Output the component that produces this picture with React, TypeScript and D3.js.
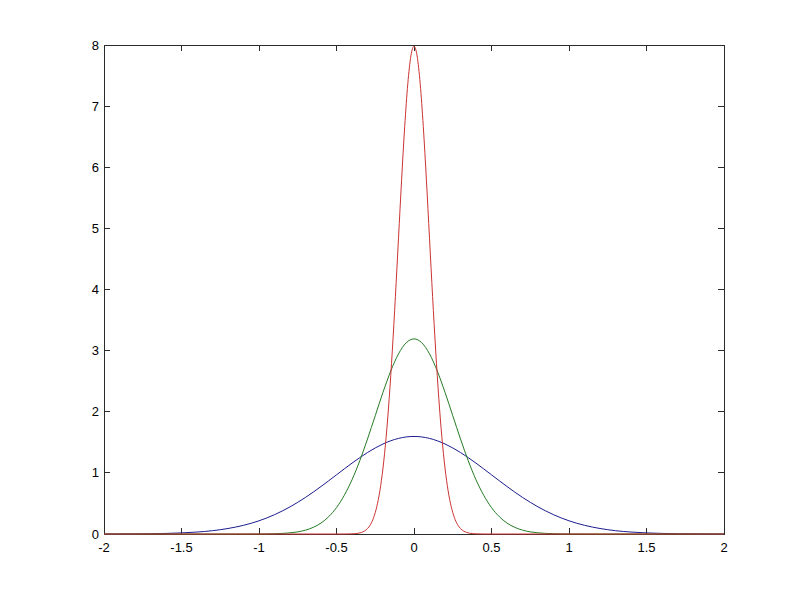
import React from "react";
import * as d3 from "d3";

const xTicks = [-2, -1.5, -1, -0.5, 0, 0.5, 1, 1.5, 2];
const yTicks = [0, 1, 2, 3, 4, 5, 6, 7, 8];

const blueX = [-2, -1.9, -1.8, -1.7, -1.6, -1.5, -1.4, -1.3, -1.2, -1.1, -1, -0.9, -0.8, -0.7, -0.6, -0.5, -0.4, -0.3, -0.2, -0.1, 0, 0.1, 0.2, 0.3, 0.4, 0.5, 0.6, 0.7, 0.8, 0.9, 1, 1.1, 1.2, 1.3, 1.4, 1.5, 1.6, 1.7, 1.8, 1.9, 2];
const blueY = [0.0005, 0.0012, 0.0024, 0.0049, 0.0095, 0.018, 0.032, 0.054, 0.09, 0.142, 0.216, 0.316, 0.444, 0.599, 0.777, 0.968, 1.159, 1.333, 1.473, 1.564, 1.596, 1.564, 1.473, 1.333, 1.159, 0.968, 0.777, 0.599, 0.444, 0.316, 0.216, 0.142, 0.09, 0.054, 0.032, 0.018, 0.0095, 0.0049, 0.0024, 0.0012, 0.0005];

const greenX = [-2, -1.5, -1.2, -1, -0.95, -0.9, -0.85, -0.8, -0.75, -0.7, -0.65, -0.6, -0.55, -0.5, -0.45, -0.4, -0.35, -0.3, -0.25, -0.2, -0.15, -0.1, -0.05, 0, 0.05, 0.1, 0.15, 0.2, 0.25, 0.3, 0.35, 0.4, 0.45, 0.5, 0.55, 0.6, 0.65, 0.7, 0.75, 0.8, 0.85, 0.9, 0.95, 1, 1.2, 1.5, 2];
const greenY = [0, 0, 0, 0.0011, 0.0023, 0.0049, 0.0099, 0.019, 0.035, 0.063, 0.109, 0.179, 0.284, 0.432, 0.632, 0.887, 1.198, 1.554, 1.936, 2.318, 2.667, 2.947, 3.129, 3.192, 3.129, 2.947, 2.667, 2.318, 1.936, 1.554, 1.198, 0.887, 0.632, 0.432, 0.284, 0.179, 0.109, 0.063, 0.035, 0.019, 0.0099, 0.0049, 0.0023, 0.0011, 0, 0, 0];

const redX = [-2, -1, -0.5, -0.45, -0.4, -0.38, -0.36, -0.34, -0.32, -0.3, -0.28, -0.26, -0.24, -0.22, -0.2, -0.18, -0.16, -0.14, -0.12, -0.1, -0.08, -0.06, -0.04, -0.02, 0, 0.02, 0.04, 0.06, 0.08, 0.1, 0.12, 0.14, 0.16, 0.18, 0.2, 0.22, 0.24, 0.26, 0.28, 0.3, 0.32, 0.34, 0.36, 0.38, 0.4, 0.45, 0.5, 1, 2];
const redY = [0, 0, 0, 0.0003, 0.0027, 0.0059, 0.012, 0.025, 0.048, 0.089, 0.158, 0.272, 0.448, 0.709, 1.08, 1.578, 2.219, 2.996, 3.884, 4.839, 5.794, 6.665, 7.366, 7.821, 7.979, 7.821, 7.366, 6.665, 5.794, 4.839, 3.884, 2.996, 2.219, 1.578, 1.08, 0.709, 0.448, 0.272, 0.158, 0.089, 0.048, 0.025, 0.012, 0.0059, 0.0027, 0.0003, 0, 0, 0];

const seriesList = [
  { name: "blue", xs: blueX, ys: blueY, color: "#1c1c8f" },
  { name: "green", xs: greenX, ys: greenY, color: "#247a24" },
  { name: "red", xs: redX, ys: redY, color: "#cc3333" },
];

export default function App() {
  const W = 800, H = 600;
  const left = 104, right = 724, top = 45, bottom = 534;
  const x = d3.scaleLinear().domain([-2, 2]).range([left, right]);
  const y = d3.scaleLinear().domain([0, 8]).range([bottom, top]);
  const line = d3.line<[number, number]>().x(d => x(d[0])).y(d => y(d[1])).curve(d3.curveMonotoneX);
  const axisColor = "#2b2b2b";
  const font = "Liberation Sans, Arial, Helvetica, sans-serif";
  const tl = 6;
  return (
    <svg width={W} height={H} style={{ position: "absolute", left: 0, top: 0, background: "#fff" }}>
      <rect x={0} y={0} width={W} height={H} fill="#fff" />
      <rect x={left} y={top} width={right - left} height={bottom - top} fill="none" stroke={axisColor} strokeWidth={1} shapeRendering="crispEdges" />
      {xTicks.map(t => (
        <g key={"x" + t}>
          <line x1={x(t)} x2={x(t)} y1={bottom} y2={bottom - tl} stroke={axisColor} shapeRendering="crispEdges" />
          <line x1={x(t)} x2={x(t)} y1={top} y2={top + tl} stroke={axisColor} shapeRendering="crispEdges" />
          <text x={x(t)} y={552} textAnchor="middle" fontFamily={font} fontSize={13} fill="#000">{String(t)}</text>
        </g>
      ))}
      {yTicks.map(t => (
        <g key={"y" + t}>
          <line x1={left} x2={left + tl} y1={y(t)} y2={y(t)} stroke={axisColor} shapeRendering="crispEdges" />
          <line x1={right} x2={right - tl} y1={y(t)} y2={y(t)} stroke={axisColor} shapeRendering="crispEdges" />
          <text x={99} y={y(t) + 4.5} textAnchor="end" fontFamily={font} fontSize={13} fill="#000">{String(t)}</text>
        </g>
      ))}
      {seriesList.map(s => (
        <path key={s.name} d={line(s.xs.map((v, i) => [v, s.ys[i]] as [number, number])) || ""} fill="none" stroke={s.color} strokeWidth={1} />
      ))}
    </svg>
  );
}
